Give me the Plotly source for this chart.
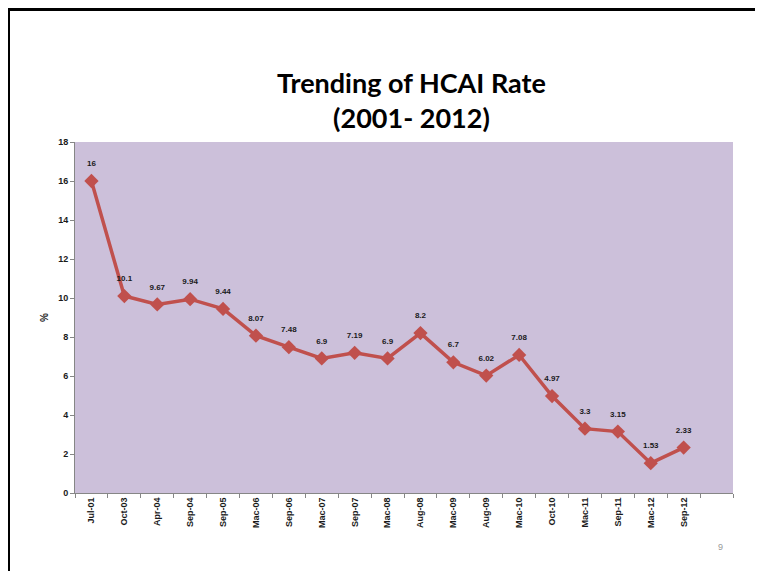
import plotly.graph_objects as go

categories = ["Jul-01", "Oct-03", "Apr-04", "Sep-04", "Sep-05", "Mac-06", "Sep-06",
              "Mac-07", "Sep-07", "Mac-08", "Aug-08", "Mac-09", "Aug-09", "Mac-10",
              "Oct-10", "Mac-11", "Sep-11", "Mac-12", "Sep-12"]
rates = [16, 10.1, 9.67, 9.94, 9.44, 8.07, 7.48, 6.9, 7.19, 6.9, 8.2, 6.7, 6.02,
         7.08, 4.97, 3.3, 3.15, 1.53, 2.33]
y_ticks = [0, 2, 4, 6, 8, 10, 12, 14, 16, 18]

xs = list(range(len(categories)))

# plot area in figure pixel coords (page is offset by 8px body margin)
L, R, T, B = 67, 725, 134, 485
W, H = R - L, B - T


def px(x):
    return (x - L) / W


def py(y):
    return (B - y) / H


fig = go.Figure()
fig.add_trace(go.Scatter(
    x=xs, y=rates, mode="lines+markers",
    line=dict(color="#C0504D", width=3.5),
    marker=dict(symbol="diamond", size=11, color="#C0504D"),
    hoverinfo="skip", showlegend=False,
))
# data labels (invisible marker only sets the label offset)
fig.add_trace(go.Scatter(
    x=xs, y=rates, mode="markers+text",
    marker=dict(size=19, opacity=0),
    text=[str(v) for v in rates], textposition="top center",
    textfont=dict(family="Liberation Sans", size=8, color="#1a1a1a", weight="bold"),
    cliponaxis=False, hoverinfo="skip", showlegend=False,
))

fig.update_layout(
    width=763, height=571,
    margin=dict(l=L, r=763 - R, t=T, b=571 - B),
    paper_bgcolor="white", plot_bgcolor="#CCC0DA",
    font=dict(family="Liberation Sans", color="#1a1a1a"),
    annotations=[
        dict(text="<b>Trending of HCAI Rate<br>(2001- 2012)</b>", xref="paper", yref="paper",
             x=px(403), y=py(92), xanchor="center", yanchor="middle",
             showarrow=False, font=dict(family="Lato", size=27, color="#000000"), align="center"),
        dict(text="9", xref="paper", yref="paper", x=px(712), y=py(539),
             xanchor="center", yanchor="middle", showarrow=False,
             font=dict(family="Liberation Sans", size=9, color="#999999")),
    ],
    shapes=[
        dict(type="line", xref="paper", yref="paper", x0=px(-4), x1=px(770),
             y0=py(1.5), y1=py(1.5), line=dict(color="black", width=3)),
        dict(type="line", xref="paper", yref="paper", x0=px(0.5), x1=px(0.5),
             y0=py(0), y1=py(580), line=dict(color="black", width=3)),
    ],
)

fig.update_xaxes(
    range=[-0.5, 19.5], tickvals=xs, ticktext=categories, tickangle=-90,
    ticks="", showgrid=False, zeroline=False,
    showline=True, linecolor="#868686", linewidth=1,
    tickfont=dict(family="Liberation Sans", size=9, color="#1a1a1a", weight="bold"),
    minor=dict(ticks="outside", ticklen=4, tick0=-0.5, dtick=1, tickcolor="#868686", showgrid=False),
)
fig.update_yaxes(
    range=[0, 18], tickvals=y_ticks, ticks="outside", ticklen=4, tickcolor="#868686",
    showgrid=False, zeroline=False, showline=True, linecolor="#868686", linewidth=1,
    tickfont=dict(family="Liberation Sans", size=9, color="#1a1a1a", weight="bold"),
    title=dict(text="<b>%</b>", font=dict(family="Liberation Sans", size=10), standoff=7),
)

fig.write_html("out.html")
